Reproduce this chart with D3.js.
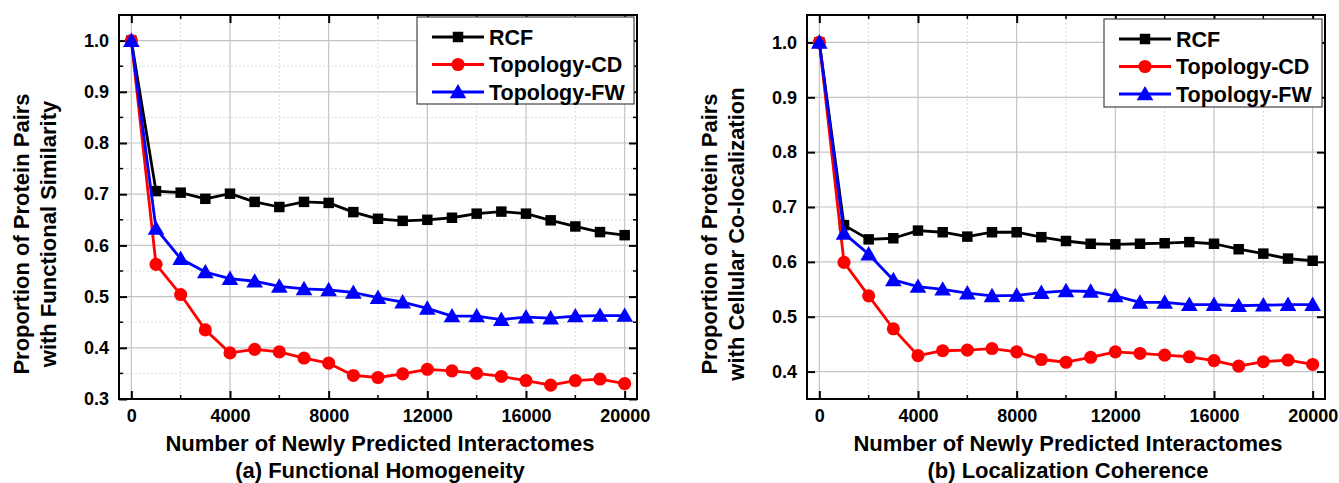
<!DOCTYPE html>
<html>
<head>
<meta charset="utf-8">
<script src="https://cdn.jsdelivr.net/npm/d3@7"></script>
<style>
  html, body { margin: 0; padding: 0; background: #fff; }
  svg text { font-family: "Liberation Sans", Arial, sans-serif; font-weight: bold; fill: #000; }
</style>
</head>
<body>
<svg id="chart" width="1339" height="483"></svg>
<script>
// ---------- data ----------
const xValues = [0, 1000, 2000, 3000, 4000, 5000, 6000, 7000, 8000, 9000, 10000,
                 11000, 12000, 13000, 14000, 15000, 16000, 17000, 18000, 19000, 20000];
const seriesNames = ["RCF", "Topology-CD", "Topology-FW"];
const xTicks = [0, 4000, 8000, 12000, 16000, 20000];

// (a) Functional Homogeneity
const rcfA = [1.0, 0.706, 0.703, 0.691, 0.701, 0.685, 0.675, 0.685, 0.683, 0.665, 0.652,
              0.648, 0.650, 0.654, 0.662, 0.666, 0.662, 0.649, 0.637, 0.626, 0.620];
const cdA  = [1.0, 0.563, 0.504, 0.435, 0.390, 0.397, 0.392, 0.380, 0.370, 0.346, 0.342,
              0.349, 0.358, 0.355, 0.350, 0.344, 0.336, 0.327, 0.336, 0.339, 0.330];
const fwA  = [1.0, 0.633, 0.574, 0.548, 0.535, 0.530, 0.520, 0.515, 0.513, 0.508, 0.498,
              0.489, 0.477, 0.462, 0.462, 0.455, 0.460, 0.458, 0.462, 0.463, 0.463];
const yTicksA = [0.3, 0.4, 0.5, 0.6, 0.7, 0.8, 0.9, 1.0];

// (b) Localization Coherence
const rcfB = [1.0, 0.667, 0.641, 0.643, 0.657, 0.654, 0.646, 0.654, 0.654, 0.645, 0.638,
              0.633, 0.632, 0.633, 0.634, 0.636, 0.633, 0.623, 0.615, 0.606, 0.602];
const cdB  = [1.0, 0.599, 0.538, 0.478, 0.429, 0.438, 0.439, 0.442, 0.436, 0.422, 0.417,
              0.426, 0.436, 0.433, 0.430, 0.427, 0.420, 0.410, 0.418, 0.421, 0.413];
const fwB  = [1.0, 0.652, 0.614, 0.567, 0.555, 0.550, 0.543, 0.538, 0.539, 0.544, 0.547,
              0.546, 0.538, 0.526, 0.526, 0.522, 0.522, 0.520, 0.521, 0.522, 0.522];
const yTicksB = [0.4, 0.5, 0.6, 0.7, 0.8, 0.9, 1.0];

const xTitle = "Number of Newly Predicted Interactomes";

// ---------- styling ----------
const colors = ["#000000", "#ff0000", "#0000ff"];
const shapes = [d3.symbolSquare, d3.symbolCircle, d3.symbolTriangle];
const symSizes = [110, 135, 120];

const svg = d3.select("#chart");

function drawPanel(opts) {
  const { left, right, top, bottom, yDomain, yTicks, series, yTitle1, yTitle2, caption, legend } = opts;
  const x = d3.scaleLinear().domain([-500, 20500]).range([left, right]);
  const y = d3.scaleLinear().domain(yDomain).range([bottom, top]);
  const g = svg.append("g");

  // minor grid
  const xMinor = xTicks.slice(0, -1).map(t => t + 2000);
  const yMinor = d3.range(yDomain[0] + 0.05, yDomain[1] - 0.001, 0.1).filter(v => !yTicks.some(t => Math.abs(t - v) < 1e-6) && v > yDomain[0] + 1e-6);
  g.append("g").selectAll("line").data(xMinor).join("line")
    .attr("x1", d => x(d)).attr("x2", d => x(d)).attr("y1", top).attr("y2", bottom)
    .attr("stroke", "#d0d0d0").attr("stroke-width", 1).attr("stroke-dasharray", "1.5,2.5");
  g.append("g").selectAll("line").data(yMinor).join("line")
    .attr("x1", left).attr("x2", right).attr("y1", d => y(d)).attr("y2", d => y(d))
    .attr("stroke", "#d0d0d0").attr("stroke-width", 1).attr("stroke-dasharray", "1.5,2.5");
  // major grid
  g.append("g").selectAll("line").data(xTicks).join("line")
    .attr("x1", d => x(d)).attr("x2", d => x(d)).attr("y1", top).attr("y2", bottom)
    .attr("stroke", "#c4c4c4").attr("stroke-width", 1.2);
  g.append("g").selectAll("line").data(yTicks).join("line")
    .attr("x1", left).attr("x2", right).attr("y1", d => y(d)).attr("y2", d => y(d))
    .attr("stroke", "#c4c4c4").attr("stroke-width", 1.2);

  // axes (ticks inward, mirrored)
  const fmtY = d3.format(".1f");
  const axB = d3.axisBottom(x).tickValues(xTicks).tickSizeInner(-8).tickSizeOuter(0).tickPadding(10).tickFormat(d3.format("d"));
  const axT = d3.axisTop(x).tickValues(xTicks).tickSizeInner(-8).tickSizeOuter(0).tickFormat("");
  const axL = d3.axisLeft(y).tickValues(yTicks).tickSizeInner(-8).tickSizeOuter(0).tickPadding(10).tickFormat(fmtY);
  const axR = d3.axisRight(y).tickValues(yTicks).tickSizeInner(-8).tickSizeOuter(0).tickFormat("");
  const styleAxis = sel => {
    sel.select(".domain").remove();
    sel.selectAll(".tick line").attr("stroke", "#000").attr("stroke-width", 2);
    sel.selectAll(".tick text").style("font-size", "18px");
  };
  g.append("g").attr("transform", `translate(0,${bottom})`).call(axB).call(styleAxis);
  g.append("g").attr("transform", `translate(0,${top})`).call(axT).call(styleAxis);
  g.append("g").attr("transform", `translate(${left},0)`).call(axL).call(styleAxis);
  g.append("g").attr("transform", `translate(${right},0)`).call(axR).call(styleAxis);
  // minor ticks
  const mt = 4;
  g.append("g").selectAll("line").data(xMinor).join("line")
    .attr("x1", d => x(d)).attr("x2", d => x(d)).attr("y1", bottom).attr("y2", bottom - mt)
    .attr("stroke", "#000").attr("stroke-width", 1.5);
  g.append("g").selectAll("line").data(xMinor).join("line")
    .attr("x1", d => x(d)).attr("x2", d => x(d)).attr("y1", top).attr("y2", top + mt)
    .attr("stroke", "#000").attr("stroke-width", 1.5);
  g.append("g").selectAll("line").data(yMinor).join("line")
    .attr("x1", left).attr("x2", left + mt).attr("y1", d => y(d)).attr("y2", d => y(d))
    .attr("stroke", "#000").attr("stroke-width", 1.5);
  g.append("g").selectAll("line").data(yMinor).join("line")
    .attr("x1", right).attr("x2", right - mt).attr("y1", d => y(d)).attr("y2", d => y(d))
    .attr("stroke", "#000").attr("stroke-width", 1.5);

  // frame
  g.append("rect").attr("x", left).attr("y", top).attr("width", right - left).attr("height", bottom - top)
    .attr("fill", "none").attr("stroke", "#000").attr("stroke-width", 2);

  // series
  const line = d3.line().x((d, i) => x(xValues[i])).y(d => y(d));
  series.forEach((vals, si) => {
    const sg = g.append("g");
    sg.append("path").attr("d", line(vals)).attr("fill", "none")
      .attr("stroke", colors[si]).attr("stroke-width", 2.8).attr("stroke-linejoin", "round");
    sg.selectAll("path.m").data(vals).join("path").attr("class", "m")
      .attr("d", d3.symbol().type(shapes[si]).size(symSizes[si]))
      .attr("transform", (d, i) => `translate(${x(xValues[i])},${y(d) + (si === 2 ? 1.5 : 0)})`)
      .attr("fill", colors[si]);
  });

  // legend
  const lg = g.append("g");
  lg.append("rect").attr("x", legend.x).attr("y", legend.y).attr("width", legend.w).attr("height", legend.h)
    .attr("fill", "#fff").attr("stroke", "#444").attr("stroke-width", 1.2);
  seriesNames.forEach((name, si) => {
    const ry = legend.y + 20 + si * 27.5;
    lg.append("line").attr("x1", legend.x + 15).attr("x2", legend.x + 67).attr("y1", ry).attr("y2", ry)
      .attr("stroke", colors[si]).attr("stroke-width", 2.8);
    lg.append("path").attr("d", d3.symbol().type(shapes[si]).size(symSizes[si])())
      .attr("transform", `translate(${legend.x + 41},${ry + (si === 2 ? 1.5 : 0)})`).attr("fill", colors[si]);
    lg.append("text").attr("x", legend.x + 72).attr("y", ry + 7.5).style("font-size", "21.5px").text(name);
  });

  // titles
  const cx = (left + right) / 2;
  g.append("text").attr("x", cx + 2).attr("y", 451).attr("text-anchor", "middle").style("font-size", "22px").text(xTitle);
  g.append("text").attr("x", cx + 2).attr("y", 478).attr("text-anchor", "middle").style("font-size", "22px").text(caption);
  const tyc = 234;
  g.append("text").attr("transform", `translate(${left - 90},${tyc}) rotate(-90)`).attr("text-anchor", "middle")
    .style("font-size", "22px").text(yTitle1);
  g.append("text").attr("transform", `translate(${left - 63},${tyc}) rotate(-90)`).attr("text-anchor", "middle")
    .style("font-size", "22px").text(yTitle2);
}

drawPanel({
  left: 119, right: 637, top: 15, bottom: 399,
  yDomain: [0.3, 1.05], yTicks: yTicksA, series: [rcfA, cdA, fwA],
  yTitle1: "Proportion of Protein Pairs", yTitle2: "with Functional Similarity",
  caption: "(a) Functional Homogeneity",
  legend: { x: 417, y: 17, w: 217, h: 87 }
});
drawPanel({
  left: 807, right: 1325, top: 15, bottom: 399,
  yDomain: [0.35, 1.05], yTicks: yTicksB, series: [rcfB, cdB, fwB],
  yTitle1: "Proportion of Protein Pairs", yTitle2: "with Cellular Co-localization",
  caption: "(b) Localization Coherence",
  legend: { x: 1104, y: 19, w: 218, h: 88 }
});
</script>
</body>
</html>
